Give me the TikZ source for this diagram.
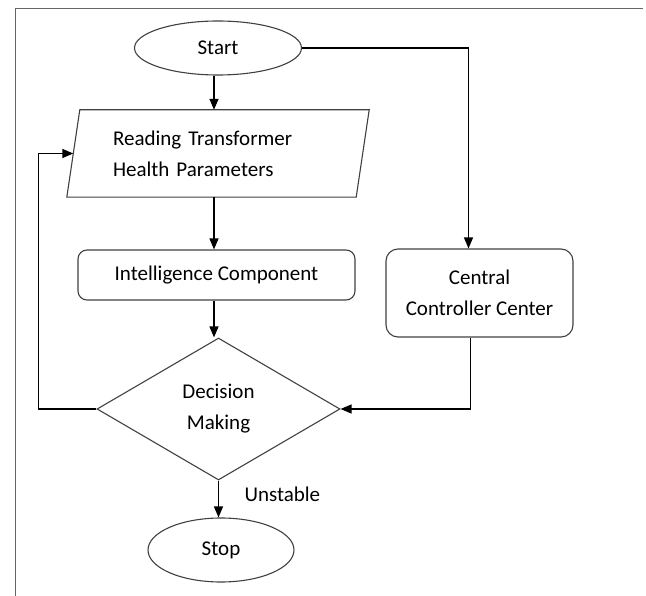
\documentclass[tikz,border=0pt]{standalone}
\usepackage{fontspec}
\setmainfont{Carlito}
\usetikzlibrary{shapes.geometric,arrows.meta,calc}
\begin{document}
\begin{tikzpicture}[x=1pt,y=-1pt,
  every node/.style={font=\fontsize{21}{31}\selectfont, text=black},
  outl/.style={draw=black!75, line width=1.1pt},
  term/.style={outl, ellipse, inner sep=0pt},
  rbox/.style={outl, rectangle, rounded corners=9pt, inner sep=0pt, align=center},
  flow/.style={line width=1.4pt, -{Triangle[length=11pt,width=9pt]}},
  plain/.style={line width=1.4pt}]
\useasboundingbox (0,0) rectangle (646,596);
% frame
\draw[gray!80!black, line width=1.3pt] (15.5,596) -- (15.5,8.5) -- (643,8.5);
% nodes
\node[term, minimum width=167pt, minimum height=54pt] (start) at (218,48) {Start};
\node[rectangle, minimum width=289pt, minimum height=87pt, text width=210pt, align=left, inner sep=0pt] (read) at (218,153.5) {Reading Transformer\\Health Parameters};
\draw[outl] ($(read.south west)+(-6.5,0)$) -- ($(read.north west)+(6.5,0)$) -- ($(read.north east)+(6.5,0)$) -- ($(read.south east)+(-6.5,0)$) -- cycle;
\node[rbox, minimum width=277pt, minimum height=50pt] (intel) at (216.5,275) {Intelligence Component};
\node[rbox, minimum width=187pt, minimum height=88pt, rounded corners=12pt] (central) at (479.5,293) {Central\\Controller Center};
\node[outl, diamond, minimum width=243pt, minimum height=142pt, inner sep=0pt, align=center] (dec) at (218.5,409) {Decision\\Making};
\node[term, minimum width=146pt, minimum height=64pt] (stop) at (221,550) {Stop};
\node[anchor=west] (unst) at (241,494) {Unstable};
\coordinate (lp) at (38.5,409);
% connectors
\draw[flow] (start.south -| 214,0) -- (read.north -| 214,0);
\draw[flow] (read.south -| 214,0) -- (intel.north -| 214,0);
\draw[flow] (intel.south -| 214,0) -- (dec.north -| 214,0);
\draw[flow] (dec.south) -- (stop.north -| dec.south);
\draw[flow] (start.east) -| ([xshift=-11pt]central.north);
\draw[flow] ([xshift=-9pt]central.south) |- (dec.east);
\draw[flow] (dec.west) -| (lp) |- (read.west);
\end{tikzpicture}
\end{document}
